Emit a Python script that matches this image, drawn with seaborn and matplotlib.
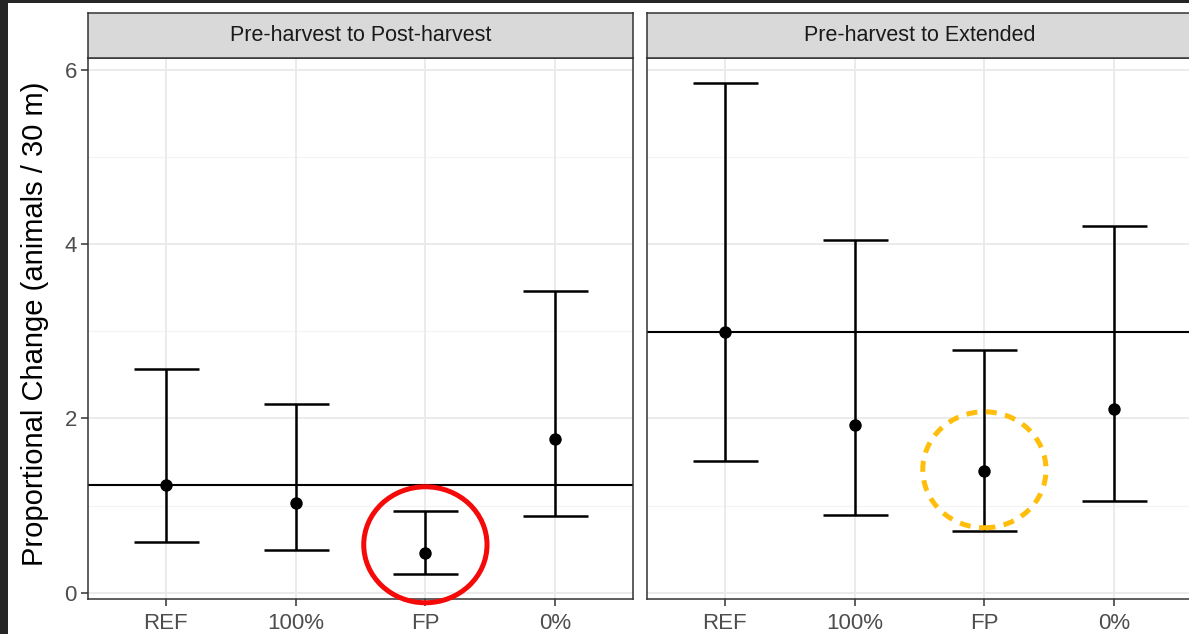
import matplotlib
matplotlib.use("Agg")
import matplotlib.pyplot as plt
from matplotlib.patches import Ellipse, Rectangle
import seaborn as sns
import pandas as pd

# ---- data -------------------------------------------------------------
categories = ["REF", "100%", "FP", "0%"]
panels = ["Pre-harvest to Post-harvest", "Pre-harvest to Extended"]

post_mean = [1.23, 1.03, 0.45, 1.76]
post_lower = [0.585, 0.49, 0.21, 0.88]
post_upper = [2.56, 2.16, 0.94, 3.46]

ext_mean = [2.99, 1.92, 1.40, 2.11]
ext_lower = [1.51, 0.895, 0.71, 1.055]
ext_upper = [5.85, 4.05, 2.78, 4.21]

y_ticks = [0, 2, 4, 6]
y_label = "Proportional Change (animals / 30 m)"

# highlighted treatment in each panel: (category, centre value, outline)
highlights = [
    ("FP", 0.55, "solid"),
    ("FP", 1.41, "dashed"),
]

# ---- style ------------------------------------------------------------
sns.set_theme(style="white")
plt.rcParams["font.family"] = ["Liberation Sans", "DejaVu Sans"]

GRAY20 = "#333333"
GRAY30 = "#4D4D4D"
GRID = "#EBEBEB"

W, H = 1189, 634
fig = plt.figure(figsize=(W / 100, H / 100), dpi=100)
fig.patch.set_facecolor("white")

frames = [
    pd.DataFrame({"treatment": categories, "mean": post_mean,
                  "lower": post_lower, "upper": post_upper}),
    pd.DataFrame({"treatment": categories, "mean": ext_mean,
                  "lower": ext_lower, "upper": ext_upper}),
]

# shared y-limits with 5% expansion
lo = min(min(post_lower), min(ext_lower))
hi = max(max(post_upper), max(ext_upper))
pad = 0.05 * (hi - lo)
ylims = (lo - pad, hi + pad)

panel_left = [88 / W, 647 / W]
panel_w = 545 / W
panel_b = (H - 599) / H
panel_h = (599 - 58) / H
strip_b = (H - 58) / H
strip_h = 45 / H

hl_styles = {
    "solid": dict(edgecolor="#F50A0A", linestyle="-"),
    "dashed": dict(edgecolor="#FFBE0B", linestyle=(0, (2.2, 1.7))),
}

for i, (title, df) in enumerate(zip(panels, frames)):
    ax = fig.add_axes([panel_left[i], panel_b, panel_w, panel_h])
    ax.set_facecolor("white")

    # grid
    for v in [1, 3, 5]:
        ax.axhline(v, color="#F3F3F3", lw=0.8, zorder=0)
    for v in y_ticks:
        ax.axhline(v, color=GRID, lw=1.4, zorder=0)

    # error bars
    ax.errorbar(df["treatment"], df["mean"],
                yerr=[df["mean"] - df["lower"], df["upper"] - df["mean"]],
                fmt="none", ecolor="black", elinewidth=1.8,
                capsize=23.4, capthick=1.8, zorder=3)

    # reference level
    ax.axhline(df["mean"].iloc[0], color="black", lw=1.5, zorder=2)

    # estimates
    sns.scatterplot(data=df, x="treatment", y="mean", ax=ax, color="black",
                    s=80, edgecolor="black", linewidth=0, zorder=4,
                    legend=False)

    for x in range(len(categories)):
        ax.axvline(x, color=GRID, lw=1.4, zorder=0)

    ax.set_xlim(-0.6, len(categories) - 0.4)
    ax.set_ylim(*ylims)
    ax.set_xlabel("")
    ax.set_ylabel("")
    ax.set_yticks(y_ticks)
    ax.tick_params(axis="both", which="major", length=5, width=1.1,
                   color=GRAY20, labelcolor=GRAY30, labelsize=16, pad=3,
                   bottom=True, left=(i == 0))
    ax.tick_params(axis="x", pad=5)
    if i > 0:
        ax.set_yticklabels([])
    ax.grid(False)
    for s in ax.spines.values():
        s.set_color(GRAY20)
        s.set_linewidth(1.1)
        s.set_visible(True)

    # highlight outline around the featured treatment
    cat, yc, style = highlights[i]
    xc = categories.index(cat)
    ell = Ellipse((xc, yc), width=0.95, height=1.33, facecolor="none",
                  linewidth=3.6, clip_on=False, zorder=6, **hl_styles[style])
    ax.add_patch(ell)

    # facet strip
    sax = fig.add_axes([panel_left[i], strip_b, panel_w, strip_h])
    sax.set_facecolor("#D9D9D9")
    sax.set_xticks([])
    sax.set_yticks([])
    for s in sax.spines.values():
        s.set_color(GRAY20)
        s.set_linewidth(1.1)
        s.set_visible(True)
    sax.text(0.5, 0.5, title, transform=sax.transAxes, ha="center",
             va="center", fontsize=15.5, color="#1A1A1A")

fig.text(35 / W, panel_b + panel_h / 2 + 5 / H, y_label, rotation=90,
         ha="center", va="center", fontsize=21, color="black")

# dark frame along the top and left edges
fig.patches.append(Rectangle((0, 0), 8 / W, 1, transform=fig.transFigure,
                             facecolor="#262626", edgecolor="none", zorder=10))
fig.patches.append(Rectangle((0, 1 - 3 / H), 1, 3 / H,
                             transform=fig.transFigure, facecolor="#262626",
                             edgecolor="none", zorder=10))

fig.savefig("out.png", dpi=100)
